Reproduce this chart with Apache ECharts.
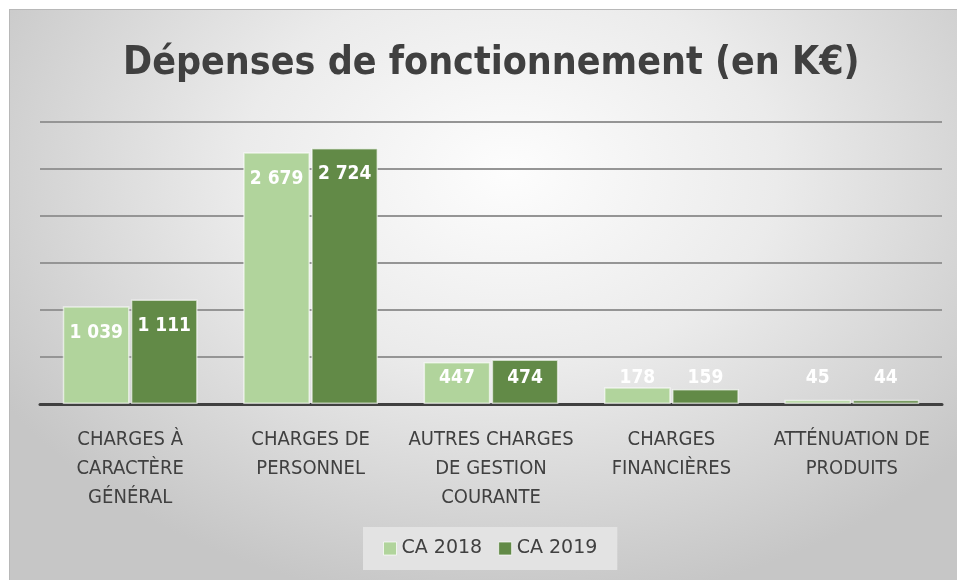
<!DOCTYPE html>
<html>
<head>
<meta charset="utf-8">
<script src="https://cdn.jsdelivr.net/npm/echarts@6/dist/echarts.min.js"></script>
<style>
  body { margin: 0; background: #fff; }
  #frame {
    position: absolute; left: 9px; top: 9px; width: 960px; height: 580px;
    border-left: 1px solid #b8b8b8; border-top: 1px solid #b8b8b8;
    background: radial-gradient(ellipse 62% 75% at 52% 28%, #fdfdfd 0%, #ebebeb 45%, #c6c6c6 100%);
  }
  #main { position: absolute; left: 0; top: 0; width: 957px; height: 580px; }
</style>
</head>
<body>
<div id="frame"></div>
<div id="main"></div>
<script>
// données
var categories = ['CHARGES À\nCARACTÈRE\nGÉNÉRAL', 'CHARGES DE\nPERSONNEL', 'AUTRES CHARGES\nDE GESTION\nCOURANTE', 'CHARGES\nFINANCIÈRES', 'ATTÉNUATION DE\nPRODUITS']
var ca2018 = [1039, 2679, 447, 178, 45]
var ca2019 = [1111, 2724, 474, 159, 44]
var seriesNames = ['CA 2018', 'CA 2019']

var narrow = 'DejaVu Sans Condensed'

var fmt = function (p) {
  return String(p.value).replace(/\B(?=(\d{3})+(?!\d))/g, ' ')
}
// petites barres : étiquette posée au-dessus de l'axe
function withLabels(values) {
  return values.map(function (v) {
    if (v < 600) {
      return {value: v, label: {position: 'insideBottom', distance: 16}}
    }
    return {value: v, label: {position: 'insideTop', distance: 17}}
  })
}

var chart = echarts.init(document.getElementById('main'))
chart.setOption({
  animation: false,
  title: {
    text: 'Dépenses de fonctionnement (en K€)',
    left: 118,
    top: 39,
    textStyle: {
      fontFamily: narrow,
      fontWeight: 'bold',
      fontSize: 39,
      color: '#404040'
    }
  },
  grid: {left: 40, right: 15, top: 122, bottom: 176},
  legend: {
    data: seriesNames,
    bottom: 10,
    left: 363,
    icon: 'rect',
    itemWidth: 13,
    itemHeight: 13,
    itemGap: 16,
    itemStyle: {borderColor: 'rgba(255,255,255,0.7)', borderWidth: 1},
    backgroundColor: '#e3e3e3',
    padding: [12, 20],
    textStyle: {fontFamily: 'DejaVu Sans', fontSize: 19, color: '#404040'}
  },
  xAxis: {
    type: 'category',
    data: categories,
    axisLine: {lineStyle: {color: '#404040', width: 3}},
    axisTick: {show: false},
    axisLabel: {
      interval: 0,
      margin: 21,
      lineHeight: 29,
      fontFamily: narrow,
      fontSize: 20,
      color: '#404040'
    }
  },
  yAxis: {
    type: 'value',
    min: 0,
    max: 3000,
    interval: 500,
    axisLabel: {show: false},
    axisLine: {show: false},
    axisTick: {show: false},
    splitLine: {lineStyle: {color: '#959595', width: 2}}
  },
  series: [
    {
      name: seriesNames[0],
      type: 'bar',
      barWidth: '37%',
      barGap: '2%',
      itemStyle: {color: '#b1d49c', borderColor: 'rgba(255,255,255,0.6)', borderWidth: 1.5},
      label: {show: true, color: '#fff', fontWeight: 'bold', fontSize: 19, fontFamily: narrow, formatter: fmt},
      data: withLabels(ca2018)
    },
    {
      name: seriesNames[1],
      type: 'bar',
      barWidth: '37%',
      itemStyle: {color: '#628a47', borderColor: 'rgba(255,255,255,0.6)', borderWidth: 1.5},
      label: {show: true, color: '#fff', fontWeight: 'bold', fontSize: 19, fontFamily: narrow, formatter: fmt},
      data: withLabels(ca2019)
    }
  ]
})
</script>
</body>
</html>
